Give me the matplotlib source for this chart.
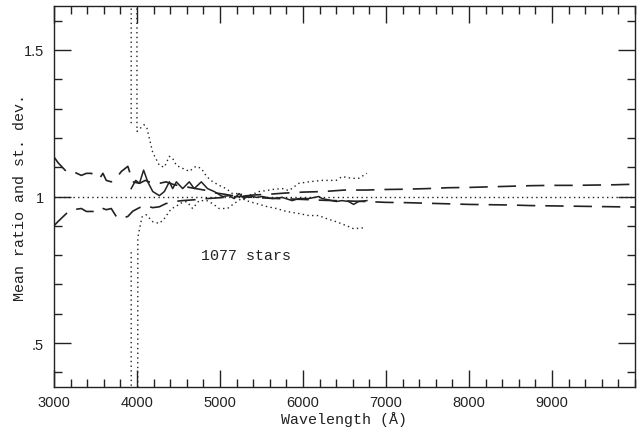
import matplotlib.pyplot as plt
import matplotlib.ticker as mticker

# mean ratio of the spectra and its st. dev. envelope
mean_wave = [3930, 3985, 4030, 4080, 4130, 4190, 4270, 4330, 4390, 4430, 4475, 4550,
             4630, 4690, 4775, 4850, 4930, 5030, 5110, 5170, 5230, 5290, 5350, 5440,
             5510, 5630, 5750, 5870, 5950, 6070, 6190, 6230, 6400, 6470, 6550, 6610,
             6670, 6770]
mean_ratio = [1.027, 1.055, 1.045, 1.090, 1.050, 1.017, 1.003, 1.017, 1.050, 1.027, 1.050, 1.027,
              1.050, 1.027, 1.050, 1.027, 1.017, 1.000, 1.003, 0.993, 1.010, 0.993, 1.003, 0.997,
              1.000, 0.993, 0.997, 0.986, 0.993, 0.993, 1.000, 0.993, 0.983, 0.986, 0.983, 0.973,
              0.983, 0.986]

hi_wave = [3930, 3965, 4000, 4085, 4120, 4190, 4270, 4330, 4390, 4430, 4475, 4550,
           4630, 4710, 4775, 4840, 4910, 4990, 5075, 5150, 5230, 5310, 5390, 5470,
           5560, 5630, 5750, 5830, 5950, 6070, 6230, 6400, 6470, 6590, 6670, 6770]
sd_hi = [1.250, 30.0, 1.222, 1.245, 1.233, 1.150, 1.106, 1.100, 1.137, 1.130, 1.106, 1.096,
         1.086, 1.103, 1.096, 1.068, 1.051, 1.038, 1.027, 1.010, 1.010, 1.003, 1.007, 1.017,
         1.020, 1.024, 1.027, 1.020, 1.045, 1.050, 1.055, 1.055, 1.068, 1.062, 1.062, 1.079]

lo_wave = [3930, 3965, 4010, 4060, 4110, 4190, 4270, 4330, 4415, 4475, 4510, 4600,
           4670, 4750, 4840, 4910, 4990, 5090, 5170, 5260, 5350, 5440, 5560, 5680,
           5800, 5950, 6070, 6190, 6280, 6400, 6520, 6610, 6760]
sd_lo = [0.810, -30.0, 0.860, 0.930, 0.938, 0.914, 0.908, 0.925, 0.959, 0.966, 0.976, 0.983,
         0.959, 0.986, 0.986, 0.976, 0.959, 0.959, 0.976, 0.993, 0.983, 0.976, 0.966, 0.959,
         0.949, 0.942, 0.935, 0.935, 0.925, 0.914, 0.901, 0.890, 0.894]

# expected scatter over the full range
dash_wave = [3000, 3050, 3150, 3230, 3330, 3390, 3450, 3550, 3590, 3630, 3690, 3750,
             3810, 3890, 3950, 4030, 4100, 4190, 4270, 4350, 4450, 4550, 4650, 4750,
             4850, 4950, 5050, 5150, 5250, 5400, 5600, 5800, 6000, 6250, 6500, 6750,
             7000, 7250, 7500, 7750, 8000, 8250, 8500, 8750, 9000, 9250, 9500, 9750, 10000]
dash_hi = [1.135, 1.115, 1.085, 1.085, 1.072, 1.079, 1.079, 1.062, 1.079, 1.055, 1.050, 1.062,
           1.085, 1.103, 1.050, 1.045, 1.055, 1.045, 1.045, 1.050, 1.040, 1.035, 1.030, 1.025,
           1.020, 1.012, 1.008, 1.003, 1.000, 1.005, 1.008, 1.012, 1.015, 1.017, 1.022, 1.022,
           1.024, 1.025, 1.027, 1.030, 1.031, 1.033, 1.035, 1.037, 1.038, 1.038, 1.039, 1.040, 1.042]
dash_lo = [0.900, 0.915, 0.942, 0.955, 0.959, 0.949, 0.949, 0.949, 0.959, 0.955, 0.959, 0.932,
           0.925, 0.932, 0.950, 0.962, 0.969, 0.962, 0.965, 0.976, 0.983, 0.986, 0.988, 0.990,
           0.993, 0.995, 0.997, 0.999, 1.000, 0.997, 0.994, 0.992, 0.990, 0.987, 0.985, 0.983,
           0.980, 0.979, 0.977, 0.975, 0.973, 0.972, 0.971, 0.969, 0.968, 0.967, 0.966, 0.965, 0.964]

n_stars = 1077
xtick_vals = [3000, 4000, 5000, 6000, 7000, 8000, 9000]
ytick_vals = [0.5, 1.0, 1.5]
ytick_text = ['.5', '1', '1.5']

ink = '#222222'
dots = (0, (1, 2.4))
mono = 'Liberation Mono'

fig = plt.figure(figsize=(6.41, 4.39), dpi=100)
ax = fig.add_axes([0.0842, 0.1162, 0.9064, 0.8678])

ax.plot([3000, 10000], [1, 1], color=ink, lw=1.0, ls=dots)
ax.plot(dash_wave, dash_hi, color=ink, lw=1.2, ls=(0, (11, 6)))
ax.plot(dash_wave, dash_lo, color=ink, lw=1.2, ls=(0, (11, 6)))
ax.plot(hi_wave, sd_hi, color=ink, lw=1.0, ls=dots)
ax.plot(lo_wave, sd_lo, color=ink, lw=1.0, ls=dots)
ax.plot(mean_wave, mean_ratio, color=ink, lw=1.1)

ax.text(5310, 0.80, f'{n_stars} stars', ha='center', va='center',
        fontsize=10.8, family=mono, color=ink)

ax.set_xlim(3000, 10000)
ax.set_ylim(0.35, 1.65)
ax.set_xticks(xtick_vals)
ax.xaxis.set_minor_locator(mticker.MultipleLocator(200))
ax.set_yticks(ytick_vals)
ax.set_yticklabels(ytick_text)
ax.yaxis.set_minor_locator(mticker.MultipleLocator(0.1))
ax.tick_params(which='both', direction='in', top=True, right=True,
               color=ink, width=1.0, labelsize=10.5, labelcolor=ink)
ax.tick_params(which='major', length=12)
ax.tick_params(axis='x', which='major', pad=6)
ax.tick_params(axis='y', which='major', pad=7)
ax.tick_params(which='minor', length=6)
for lab in ax.get_xticklabels() + ax.get_yticklabels():
    lab.set_family('Liberation Sans')
for s in ax.spines.values():
    s.set_color(ink)
    s.set_linewidth(1.0)

ax.set_xlabel('Wavelength (Å)', family=mono, fontsize=10.8, color=ink, va='center')
ax.set_ylabel('Mean ratio and st. dev.', family=mono, fontsize=10.8, color=ink, va='center')
ax.xaxis.set_label_coords(0.5, -0.082)
ax.yaxis.set_label_coords(-0.058, 0.5)

fig.savefig('out.png', dpi=100)
